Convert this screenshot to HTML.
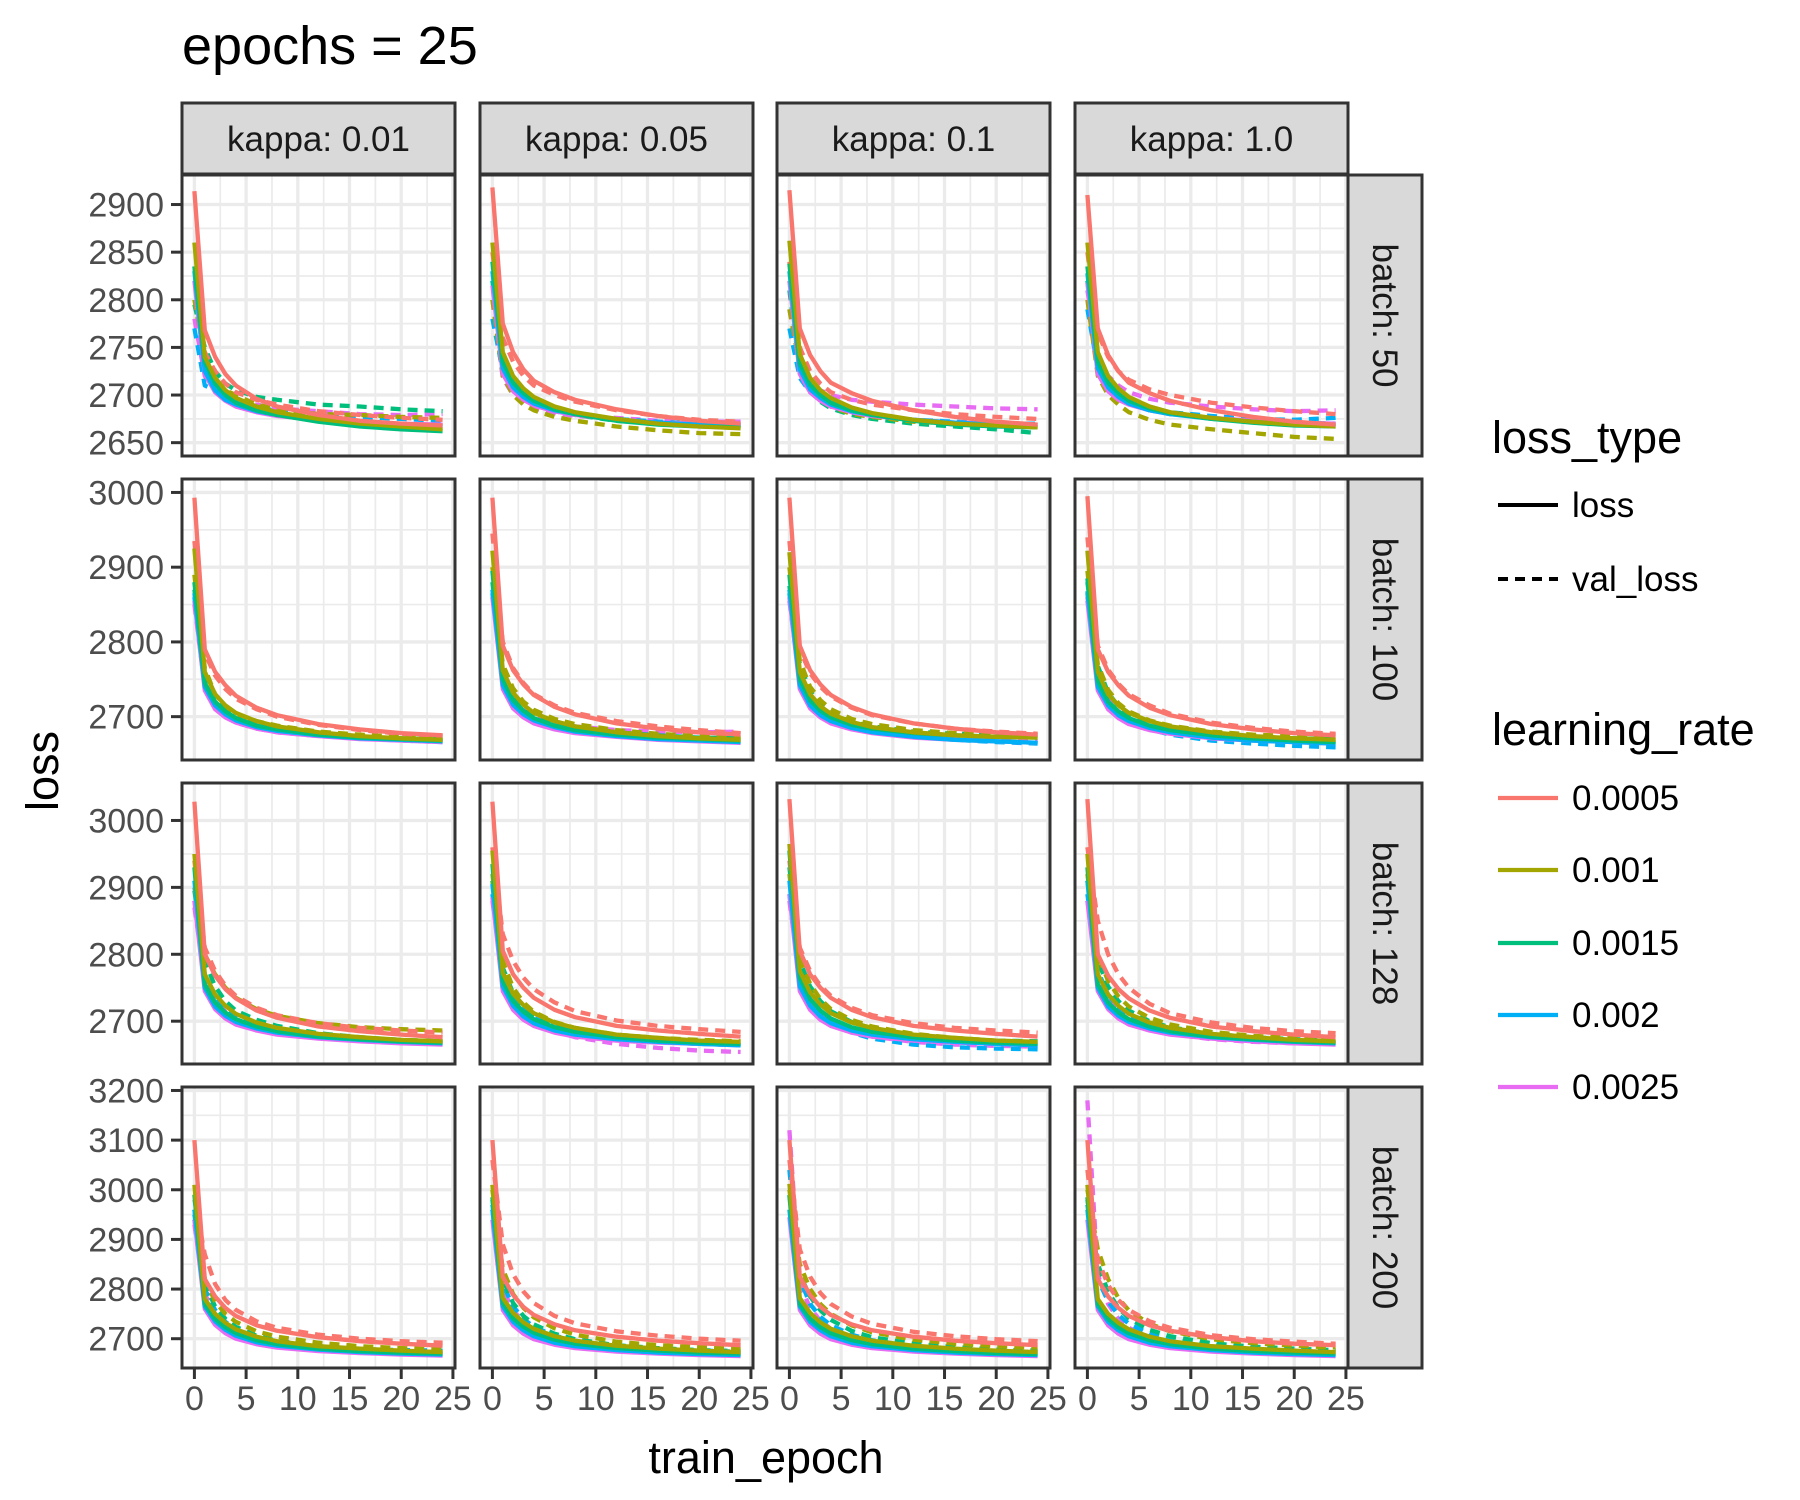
<!DOCTYPE html>
<html><head><meta charset="utf-8"><title>epochs = 25</title>
<style>
html,body{margin:0;padding:0;background:#fff;}
svg{display:block;font-family:"Liberation Sans",Arial,sans-serif;}
</style></head>
<body>
<svg id="chart" width="1800" height="1500" viewBox="0 0 1800 1500" xmlns="http://www.w3.org/2000/svg">
<rect width="1800" height="1500" fill="#fff"/>
<text x="182" y="64" font-size="54" fill="#000">epochs = 25</text>
<text x="766" y="1473" font-size="45" text-anchor="middle" fill="#000">train_epoch</text>
<text transform="translate(58,771) rotate(-90)" font-size="45" text-anchor="middle" fill="#000">loss</text>
<g id="panels"></g>
<g>
<text x="1492" y="453" font-size="45" fill="#000">loss_type</text>
<line x1="1498" y1="505" x2="1558" y2="505" stroke="#000" stroke-width="4"/>
<text x="1572" y="517" font-size="35" fill="#000">loss</text>
<line x1="1498" y1="579" x2="1558" y2="579" stroke="#000" stroke-width="4" stroke-dasharray="10 7"/>
<text x="1572" y="591" font-size="35" fill="#000">val_loss</text>
<text x="1492" y="745" font-size="45" fill="#000">learning_rate</text>
<g id="lrLegend"></g>
</g>
</svg>
<script>
const epochs = [0,1,2,3,4,6,8,12,16,20,24];
const learningRates = ["0.0005","0.001","0.0015","0.002","0.0025"];
const kappaLabels = ["kappa: 0.01","kappa: 0.05","kappa: 0.1","kappa: 1.0"];
const batchLabels = ["batch: 50","batch: 100","batch: 128","batch: 200"];
const yTicksRow1 = [2650,2700,2750,2800,2850,2900];
const yTicksRow2 = [2700,2800,2900,3000];
const yTicksRow3 = [2700,2800,2900,3000];
const yTicksRow4 = [2700,2800,2900,3000,3100,3200];
const xTicks = [0,5,10,15,20,25];
const yDomains = [[2636,2931],[2642,3018],[2636,3056],[2641,3207]];

// each panel: 5 loss series (lr order) then 5 val_loss series
const batch50 = [
 [[2914,2768,2740,2722,2710,2696,2688,2679,2673,2670,2668],[2860,2740,2718,2705,2697,2688,2682,2675,2670,2667,2664],[2835,2735,2712,2700,2692,2684,2679,2672,2667,2664,2662],[2830,2725,2705,2695,2690,2683,2679,2674,2670,2668,2667],[2820,2722,2703,2694,2688,2682,2678,2674,2671,2670,2669],
  [2835,2745,2725,2712,2703,2695,2690,2683,2679,2676,2674],[2800,2740,2715,2705,2700,2690,2685,2680,2679,2677,2676],[2795,2750,2725,2712,2705,2698,2695,2690,2688,2685,2683],[2770,2710,2705,2700,2695,2688,2683,2680,2677,2675,2673],[2780,2720,2705,2700,2693,2690,2686,2683,2680,2679,2680]],
 [[2918,2775,2745,2727,2715,2703,2695,2685,2678,2673,2670],[2860,2745,2720,2707,2698,2688,2682,2675,2670,2667,2665],[2840,2735,2713,2702,2694,2685,2680,2673,2669,2667,2666],[2830,2728,2708,2698,2691,2684,2680,2674,2671,2669,2668],[2815,2722,2704,2695,2689,2683,2679,2674,2671,2670,2669],
  [2850,2760,2735,2720,2710,2700,2693,2684,2678,2674,2672],[2800,2720,2700,2690,2684,2677,2673,2667,2663,2660,2659],[2820,2730,2710,2698,2690,2683,2679,2673,2670,2668,2667],[2780,2725,2706,2697,2690,2684,2680,2675,2672,2670,2669],[2800,2718,2700,2692,2686,2681,2678,2676,2673,2672,2672]],
 [[2915,2770,2742,2725,2713,2702,2694,2684,2677,2672,2669],[2862,2743,2718,2705,2697,2687,2681,2674,2670,2668,2666],[2838,2733,2711,2700,2692,2684,2679,2673,2669,2667,2666],[2830,2727,2706,2697,2690,2683,2679,2674,2671,2669,2668],[2820,2722,2703,2694,2688,2682,2678,2674,2671,2670,2669],
  [2840,2750,2725,2712,2703,2695,2690,2684,2680,2677,2675],[2790,2730,2705,2695,2688,2680,2677,2672,2670,2668,2668],[2810,2725,2705,2693,2686,2679,2675,2670,2667,2664,2660],[2770,2718,2703,2694,2688,2682,2678,2674,2672,2670,2670],[2790,2730,2712,2705,2700,2695,2693,2690,2688,2686,2685]],
 [[2910,2770,2742,2725,2713,2702,2694,2684,2677,2672,2669],[2860,2745,2720,2707,2698,2688,2682,2676,2672,2669,2667],[2835,2735,2713,2702,2694,2686,2681,2675,2671,2668,2667],[2828,2728,2708,2698,2691,2684,2680,2675,2672,2669,2668],[2818,2722,2704,2695,2690,2684,2680,2676,2673,2671,2670],
  [2850,2765,2740,2725,2716,2706,2700,2692,2687,2683,2680],[2800,2720,2700,2690,2682,2674,2669,2664,2660,2656,2654],[2820,2735,2712,2700,2692,2684,2680,2676,2673,2671,2670],[2790,2728,2708,2698,2692,2686,2682,2678,2675,2674,2676],[2810,2740,2720,2710,2703,2696,2692,2688,2685,2683,2684]]
];
const batch100 = [
 [[2993,2790,2760,2742,2728,2712,2702,2690,2683,2678,2675],[2925,2760,2730,2715,2705,2694,2687,2679,2674,2671,2669],[2880,2745,2720,2707,2698,2688,2683,2676,2672,2670,2668],[2865,2740,2715,2703,2695,2686,2681,2675,2671,2669,2667],[2855,2735,2710,2699,2692,2684,2679,2674,2670,2668,2666],
  [2935,2785,2755,2737,2724,2710,2700,2689,2682,2677,2674],[2890,2765,2730,2714,2704,2694,2688,2680,2676,2673,2672],[2870,2755,2722,2708,2698,2689,2683,2677,2673,2671,2670],[2860,2740,2716,2703,2695,2686,2681,2675,2671,2668,2666],[2850,2740,2712,2700,2692,2684,2679,2674,2671,2669,2668]],
 [[2993,2795,2762,2743,2729,2713,2703,2691,2684,2679,2676],[2922,2762,2732,2716,2705,2694,2687,2679,2674,2671,2669],[2895,2750,2722,2708,2698,2688,2682,2676,2672,2670,2668],[2870,2742,2716,2703,2695,2686,2680,2674,2670,2668,2666],[2860,2737,2711,2699,2691,2683,2678,2673,2669,2667,2665],
  [2945,2800,2765,2745,2730,2715,2705,2694,2687,2682,2678],[2900,2770,2738,2720,2709,2697,2690,2682,2677,2674,2672],[2880,2760,2728,2712,2702,2692,2686,2679,2675,2672,2671],[2865,2748,2720,2706,2697,2688,2683,2677,2674,2672,2671],[2860,2755,2725,2710,2700,2692,2687,2682,2680,2679,2680]],
 [[2993,2795,2762,2743,2729,2713,2703,2691,2684,2679,2676],[2920,2760,2730,2714,2704,2693,2686,2679,2675,2673,2672],[2890,2750,2722,2708,2699,2689,2684,2678,2675,2673,2672],[2870,2742,2715,2702,2694,2685,2679,2673,2669,2667,2665],[2860,2737,2711,2699,2691,2683,2678,2672,2669,2667,2665],
  [2935,2790,2758,2740,2727,2712,2702,2691,2684,2680,2677],[2900,2775,2740,2722,2710,2697,2690,2682,2678,2676,2675],[2875,2770,2735,2716,2705,2693,2687,2680,2677,2676,2676],[2865,2745,2718,2704,2695,2686,2680,2673,2669,2666,2664],[2855,2745,2716,2702,2693,2684,2679,2673,2670,2668,2667]],
 [[2995,2790,2760,2742,2728,2712,2702,2690,2683,2678,2675],[2922,2760,2730,2715,2705,2694,2687,2679,2674,2671,2669],[2885,2748,2720,2707,2698,2688,2682,2675,2671,2668,2666],[2868,2740,2715,2702,2694,2685,2679,2672,2668,2666,2664],[2855,2735,2710,2698,2690,2682,2677,2671,2668,2666,2664],
  [2940,2795,2763,2744,2730,2715,2704,2692,2685,2680,2677],[2895,2770,2736,2718,2707,2695,2688,2680,2676,2674,2673],[2880,2768,2732,2714,2703,2692,2685,2677,2673,2671,2670],[2865,2750,2720,2704,2694,2683,2676,2668,2664,2661,2659],[2860,2752,2722,2707,2697,2687,2681,2674,2671,2669,2668]]
];
const batch128 = [
 [[3028,2800,2768,2748,2734,2716,2705,2692,2685,2680,2676],[2950,2770,2740,2723,2711,2698,2690,2681,2676,2672,2670],[2930,2755,2728,2713,2703,2692,2685,2677,2673,2670,2668],[2910,2750,2722,2708,2699,2689,2683,2676,2672,2669,2667],[2880,2745,2718,2704,2695,2686,2680,2674,2670,2667,2665],
  [2940,2810,2775,2753,2738,2720,2709,2697,2690,2686,2683],[2900,2800,2770,2750,2735,2718,2708,2697,2691,2688,2686],[2895,2790,2752,2730,2716,2702,2693,2682,2676,2672,2670],[2880,2770,2738,2720,2708,2695,2687,2678,2674,2671,2669],[2870,2765,2732,2714,2703,2691,2684,2676,2672,2670,2668]],
 [[3028,2805,2770,2750,2735,2717,2706,2693,2686,2681,2677],[2955,2772,2741,2724,2712,2698,2690,2680,2675,2671,2669],[2935,2760,2730,2714,2703,2691,2684,2676,2671,2668,2666],[2905,2752,2723,2707,2697,2686,2680,2673,2669,2666,2664],[2885,2745,2717,2702,2693,2683,2677,2671,2668,2666,2664],
  [2960,2830,2790,2765,2748,2728,2715,2701,2693,2688,2684],[2920,2790,2750,2728,2714,2699,2690,2680,2675,2672,2670],[2910,2780,2742,2722,2709,2695,2687,2678,2673,2670,2668],[2890,2775,2738,2718,2705,2691,2683,2674,2669,2666,2664],[2880,2770,2732,2712,2699,2685,2676,2666,2660,2656,2654]],
 [[3032,2805,2770,2750,2735,2717,2706,2693,2686,2681,2677],[2965,2775,2743,2725,2712,2698,2690,2680,2675,2671,2669],[2955,2765,2733,2716,2704,2691,2684,2676,2671,2668,2666],[2910,2752,2723,2707,2697,2686,2680,2673,2669,2666,2664],[2890,2745,2717,2702,2693,2683,2677,2671,2668,2666,2664],
  [2940,2810,2775,2753,2738,2720,2709,2697,2690,2686,2683],[2920,2795,2756,2733,2718,2702,2692,2681,2675,2671,2669],[2930,2790,2752,2730,2715,2699,2689,2679,2674,2671,2670],[2890,2770,2732,2712,2698,2683,2674,2665,2661,2659,2658],[2880,2765,2730,2711,2698,2685,2677,2669,2665,2663,2662]],
 [[3032,2800,2768,2748,2734,2716,2705,2692,2685,2680,2676],[2950,2770,2740,2723,2711,2698,2690,2681,2676,2672,2670],[2930,2755,2728,2713,2703,2692,2685,2677,2673,2670,2668],[2910,2750,2722,2708,2699,2689,2683,2676,2672,2669,2667],[2880,2745,2718,2704,2695,2686,2680,2674,2670,2667,2665],
  [2960,2850,2800,2770,2750,2726,2712,2698,2690,2685,2682],[2920,2800,2760,2737,2722,2705,2695,2684,2678,2675,2673],[2910,2790,2752,2730,2716,2700,2691,2681,2676,2673,2671],[2890,2775,2740,2720,2707,2693,2685,2676,2672,2669,2668],[2880,2770,2735,2715,2702,2689,2681,2673,2669,2667,2666]]
];
const batch200 = [
 [[3100,2820,2785,2762,2746,2727,2716,2703,2695,2690,2686],[3010,2780,2750,2732,2719,2704,2695,2685,2680,2676,2673],[2990,2770,2740,2723,2711,2697,2689,2680,2675,2672,2670],[2960,2765,2735,2718,2706,2693,2686,2678,2673,2670,2668],[2940,2760,2728,2711,2700,2689,2682,2675,2671,2668,2666],
  [2980,2870,2810,2778,2758,2735,2722,2708,2700,2695,2692],[2960,2820,2775,2750,2734,2715,2704,2692,2685,2681,2678],[2950,2810,2765,2740,2724,2706,2696,2685,2679,2676,2674],[2940,2800,2758,2734,2718,2701,2692,2683,2679,2677,2676],[2930,2790,2750,2727,2712,2696,2688,2679,2675,2672,2671]],
 [[3100,2825,2788,2764,2748,2729,2717,2704,2696,2691,2687],[3010,2782,2752,2733,2720,2705,2696,2686,2680,2676,2673],[2985,2772,2741,2724,2712,2698,2690,2681,2676,2672,2670],[2960,2765,2734,2717,2705,2692,2685,2677,2672,2669,2667],[2940,2758,2727,2710,2699,2688,2681,2674,2670,2667,2665],
  [3060,2890,2830,2795,2772,2746,2731,2715,2706,2700,2696],[3000,2840,2790,2762,2743,2721,2708,2694,2687,2683,2680],[2980,2820,2772,2746,2729,2710,2699,2687,2681,2677,2675],[2970,2810,2765,2740,2724,2706,2696,2685,2679,2676,2674],[2960,2800,2757,2733,2717,2700,2690,2680,2675,2672,2670]],
 [[3100,2825,2788,2764,2748,2729,2717,2704,2696,2691,2687],[3012,2782,2752,2733,2720,2705,2696,2686,2680,2676,2673],[2988,2770,2740,2723,2711,2697,2689,2680,2675,2671,2669],[2960,2765,2734,2717,2705,2692,2685,2677,2672,2669,2667],[2945,2758,2727,2710,2699,2688,2681,2674,2670,2667,2665],
  [3060,2880,2825,2792,2770,2745,2730,2714,2705,2699,2695],[3000,2850,2800,2770,2750,2727,2713,2698,2690,2685,2682],[2990,2830,2785,2757,2738,2716,2703,2690,2683,2678,2676],[3040,2820,2770,2744,2727,2708,2697,2685,2679,2675,2673],[3120,2810,2762,2736,2720,2703,2693,2682,2677,2674,2672]],
 [[3100,2820,2785,2762,2746,2727,2716,2703,2695,2690,2687],[3010,2780,2750,2732,2719,2704,2695,2685,2680,2676,2673],[2985,2770,2740,2723,2711,2697,2689,2680,2675,2672,2670],[2960,2765,2734,2717,2705,2692,2685,2677,2672,2669,2667],[2940,2758,2727,2710,2699,2688,2681,2674,2670,2667,2665],
  [3040,2860,2808,2778,2758,2735,2722,2707,2699,2694,2690],[3000,2880,2820,2782,2757,2730,2715,2699,2691,2686,2682],[2980,2850,2795,2762,2741,2718,2705,2691,2684,2680,2677],[2970,2820,2775,2748,2730,2710,2699,2687,2681,2677,2675],[3180,2830,2770,2740,2722,2703,2693,2682,2677,2674,2672]]
];

const rowsData = [batch50, batch100, batch128, batch200];
const yTicksAll = [yTicksRow1, yTicksRow2, yTicksRow3, yTicksRow4];
const COLORS = ["#F8766D","#A3A500","#00BF7D","#00B0F6","#E76BF3"];
const NS = "http://www.w3.org/2000/svg";
const colLeft = [182,480,777,1075], PW = 273;
const rowTop = [175,479,783,1087], PH = 281;
const X0 = -1.2, X1 = 25.2;

function mk(tag, attrs, parent){
  const e = document.createElementNS(NS, tag);
  for (const k in attrs) e.setAttribute(k, attrs[k]);
  parent.appendChild(e);
  return e;
}
function xScale(c, v){ return colLeft[c] + (v - X0) / (X1 - X0) * PW; }
function yScale(r, v){ const d = yDomains[r]; return rowTop[r] + PH - (v - d[0]) / (d[1] - d[0]) * PH; }

const root = document.getElementById("panels");
for (let c = 0; c < 4; c++) {
  const s = mk("rect", {x: colLeft[c], y: 103, width: PW, height: 71, fill: "#D9D9D9", stroke: "#333", "stroke-width": 3}, root);
  
  
  const t = mk("text", {x: colLeft[c] + PW/2, y: 151, "font-size": 35, "text-anchor": "middle", fill: "#1A1A1A"}, root);
  
  
  t.textContent = kappaLabels[c];
}
const stripX = colLeft[3] + PW;
for (let r = 0; r < 4; r++) {
  const s = mk("rect", {x: stripX, y: rowTop[r], width: 74, height: PH, fill: "#D9D9D9", stroke: "#333", "stroke-width": 3}, root);
  
  
  const cy = rowTop[r] + PH/2;
  const t = mk("text", {x: 0, y: 0, transform: "translate(" + (stripX + 25) + "," + cy + ") rotate(90)", "font-size": 35, "text-anchor": "middle", fill: "#1A1A1A"}, root);
  
  
  t.textContent = batchLabels[r];
}
for (let r = 0; r < 4; r++) {
  const ticks = yTicksAll[r];
  for (const v of ticks) {
    const y = yScale(r, v);
    const tm = mk("line", {x1: 171, x2: 182, y1: y, y2: y, stroke: "#333", "stroke-width": 3}, root);
    
    
    const tl = mk("text", {x: 164, y: y + 12, "font-size": 34, "text-anchor": "end", fill: "#4D4D4D"}, root);
    
    
    tl.textContent = v;
  }
  const step = ticks[1] - ticks[0];
  for (let c = 0; c < 4; c++) {
    const g = mk("g", {}, root);
    
    
    const clipId = "clip" + r + "_" + c;
    const cp = mk("clipPath", {id: clipId}, g);
    mk("rect", {x: colLeft[c], y: rowTop[r], width: PW, height: PH}, cp);
    mk("rect", {x: colLeft[c], y: rowTop[r], width: PW, height: PH, fill: "#fff"}, g);
    const grid = mk("g", {"clip-path": "url(#" + clipId + ")"}, g);
    for (let i = 0; i < ticks.length - 1; i++) {
      const y = yScale(r, ticks[i] + step/2);
      mk("line", {x1: colLeft[c], x2: colLeft[c] + PW, y1: y, y2: y, stroke: "#EBEBEB", "stroke-width": 1.7}, grid);
    }
    for (let i = 0; i < xTicks.length - 1; i++) {
      const x = xScale(c, xTicks[i] + 2.5);
      mk("line", {x1: x, x2: x, y1: rowTop[r], y2: rowTop[r] + PH, stroke: "#EBEBEB", "stroke-width": 1.7}, grid);
    }
    for (const v of ticks) {
      const y = yScale(r, v);
      mk("line", {x1: colLeft[c], x2: colLeft[c] + PW, y1: y, y2: y, stroke: "#EBEBEB", "stroke-width": 3.3}, grid);
    }
    for (const v of xTicks) {
      const x = xScale(c, v);
      mk("line", {x1: x, x2: x, y1: rowTop[r], y2: rowTop[r] + PH, stroke: "#EBEBEB", "stroke-width": 3.3}, grid);
    }
    const series = rowsData[r][c];
    for (let k = 9; k >= 0; k--) {
      const vals = series[k];
      const isVal = k >= 5;
      const lr = k % 5;
      const pts = vals.map((v, i) => xScale(c, epochs[i]).toFixed(1) + "," + yScale(r, v).toFixed(1)).join(" ");
      const pl = mk("polyline", {points: pts, fill: "none", stroke: COLORS[lr], "stroke-width": 4.3, "stroke-linejoin": "round"}, grid);
      if (isVal) pl.setAttribute("stroke-dasharray", "10 7");
      
      
    }
    mk("rect", {x: colLeft[c], y: rowTop[r], width: PW, height: PH, fill: "none", stroke: "#333", "stroke-width": 3}, g);
  }
}
for (let c = 0; c < 4; c++) {
  for (const v of xTicks) {
    const x = xScale(c, v);
    const tm = mk("line", {x1: x, x2: x, y1: 1368, y2: 1379, stroke: "#333", "stroke-width": 3}, root);
    
    
    const tl = mk("text", {x: x, y: 1410, "font-size": 34, "text-anchor": "middle", fill: "#4D4D4D"}, root);
    
    
    tl.textContent = v;
  }
}
const lg = document.getElementById("lrLegend");
const legY = [798, 870, 943, 1015, 1087];
for (let i = 0; i < 5; i++) {
  const ln = mk("line", {x1: 1498, x2: 1558, y1: legY[i], y2: legY[i], stroke: COLORS[i], "stroke-width": 4.3}, lg);
  
  
  const tx = mk("text", {x: 1572, y: legY[i] + 12, "font-size": 35, fill: "#000"}, lg);
  
  
  tx.textContent = learningRates[i];
}
</script>
</body></html>
